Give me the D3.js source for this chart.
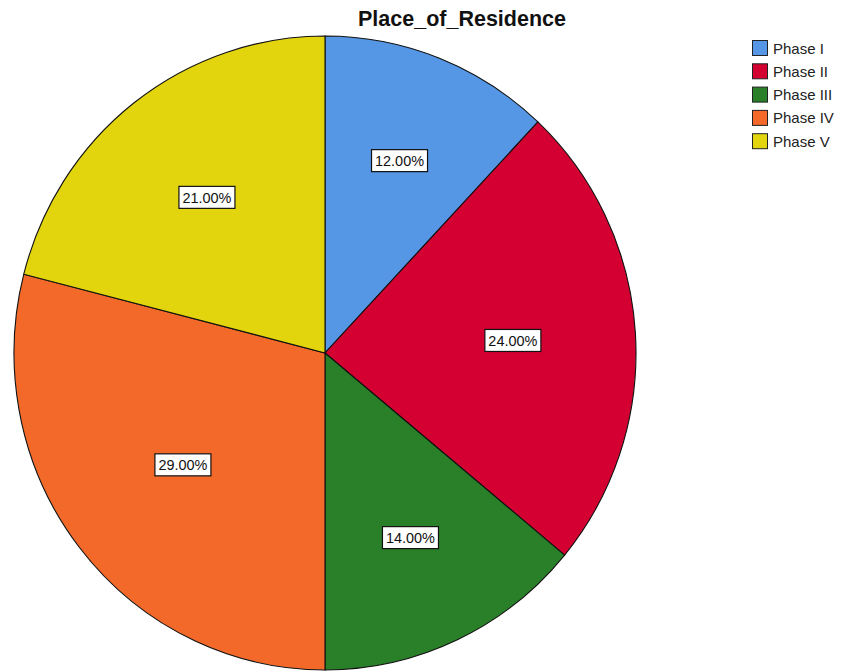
<!DOCTYPE html>
<html><head><meta charset="utf-8">
<script src="https://cdn.jsdelivr.net/npm/d3@7"></script>
<style>body{margin:0;background:#fff;}svg{display:block;}</style>
</head><body>
<svg id="chart" width="847" height="672"></svg>
<script>
const categories = ["Phase I","Phase II","Phase III","Phase IV","Phase V"];
const values = [12, 24, 14, 29, 21];
const colors = ["#5596E5","#D50032","#2A8029","#F2692A","#E2D50E"];
const title = "Place_of_Residence";

const svg = d3.select("#chart");
const cx = 325, cy = 353, rx = 311, ry = 317;

svg.append("text").attr("x", 462).attr("y", 26).attr("text-anchor","middle")
  .attr("font-family","Arial, 'Liberation Sans', sans-serif").attr("font-weight","bold")
  .attr("font-size", 21.5).attr("fill","#111").text(title);

const pie = d3.pie().sort(null).value(d => d)(values);
const arc = d3.arc().innerRadius(0).outerRadius(rx);
const g = svg.append("g").attr("transform", `translate(${cx},${cy}) scale(1,${ry/rx})`);
g.selectAll("path").data(pie).join("path")
  .attr("d", arc).attr("fill", (d,i) => colors[i])
  .attr("stroke","#111").attr("stroke-width",1.1).attr("vector-effect","non-scaling-stroke");

// labels at sector area centroid
const lg = svg.append("g").attr("transform", `translate(${cx},${cy})`);
pie.forEach((d,i) => {
  const th = d.endAngle - d.startAngle;
  const mid = (d.startAngle + d.endAngle)/2;
  const dist = 2*rx*Math.sin(th/2)/(3*th/2);
  const x = dist*Math.sin(mid), y = -dist*Math.cos(mid)*ry/rx;
  const t = values[i].toFixed(2) + "%";
  const lab = lg.append("g").attr("transform", `translate(${x},${y})`);
  lab.append("rect").attr("x",-28).attr("y",-11.5).attr("width",56).attr("height",22)
    .attr("fill","#fff").attr("stroke","#111").attr("stroke-width",1.2);
  lab.append("text").attr("x",0).attr("y",5).attr("text-anchor","middle")
    .attr("font-family","Arial, 'Liberation Sans', sans-serif").attr("font-size",14.5)
    .attr("textLength",49).attr("lengthAdjust","spacingAndGlyphs")
    .attr("fill","#111").text(t);
});

// legend
const leg = svg.append("g").attr("transform","translate(752,40)");
const step = 23.3;
categories.forEach((c,i) => {
  const it = leg.append("g").attr("transform", `translate(0,${i*step})`);
  it.append("rect").attr("x",0.5).attr("y",0.5).attr("width",15).attr("height",15)
    .attr("fill",colors[i]).attr("stroke","#222").attr("stroke-width",1);
  it.append("text").attr("x",21).attr("y",13.5)
    .attr("font-family","Arial, 'Liberation Sans', sans-serif").attr("font-size",15)
    .attr("fill","#222").text(c);
});
</script>
</body></html>
